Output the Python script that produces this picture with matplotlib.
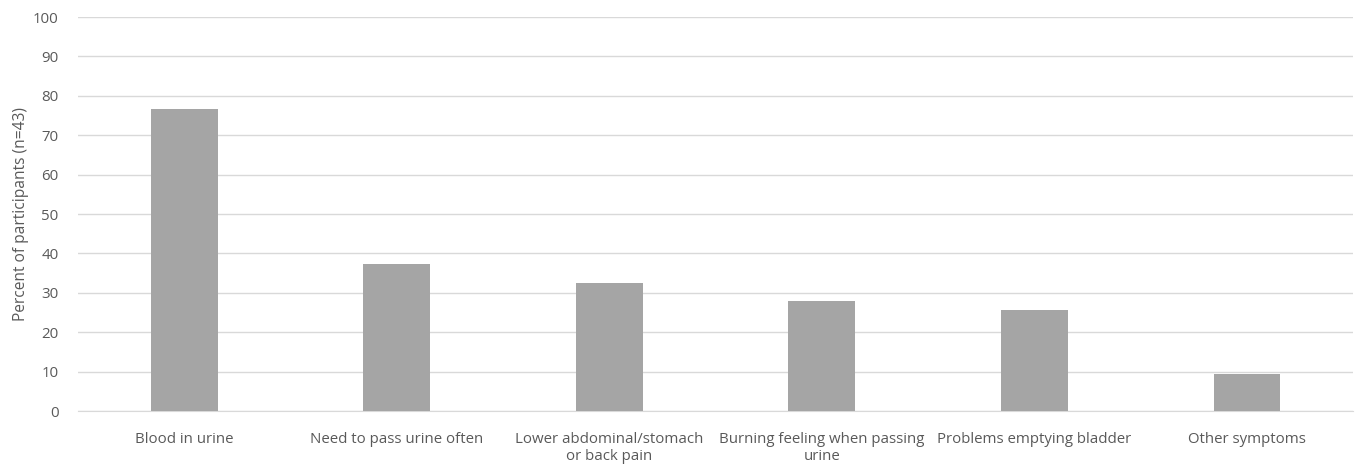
import matplotlib.pyplot as plt
import numpy as np

symptoms = ['Blood in urine', 'Need to pass urine often',
            'Lower abdominal/stomach\nor back pain',
            'Burning feeling when passing\nurine',
            'Problems emptying bladder', 'Other symptoms']
percent = [76.7, 37.2, 32.6, 27.9, 25.6, 9.3]

plt.rcParams['font.family'] = ['Open Sans', 'DejaVu Sans']
text_col = '#595959'

fig = plt.figure(figsize=(13.56, 4.66), dpi=100)
ax = fig.add_axes([0.0575, 0.118, 0.9405, 0.8455])

x = np.arange(len(symptoms))
ax.bar(x, percent, width=0.315, color='#a5a5a5', zorder=3)

ax.set_xlim(-0.5, len(symptoms) - 0.5)
ax.set_ylim(0, 100)
ax.set_yticks(np.arange(0, 101, 10))
ax.set_xticks(x)
ax.set_xticklabels(symptoms, fontsize=10.8, color=text_col, linespacing=1.2)
ax.tick_params(axis='y', labelsize=10.8, colors=text_col, length=0, pad=14)
ax.tick_params(axis='x', length=0, pad=15)

ax.grid(axis='y', color='#d9d9d9', linewidth=1, zorder=0)
for side in ['top', 'right', 'left']:
    ax.spines[side].set_visible(False)
ax.spines['bottom'].set_color('#d9d9d9')

ax.set_ylabel('Percent of participants (n=43)', fontsize=11.2, color=text_col, labelpad=3)

fig.savefig('out.png', dpi=100)
